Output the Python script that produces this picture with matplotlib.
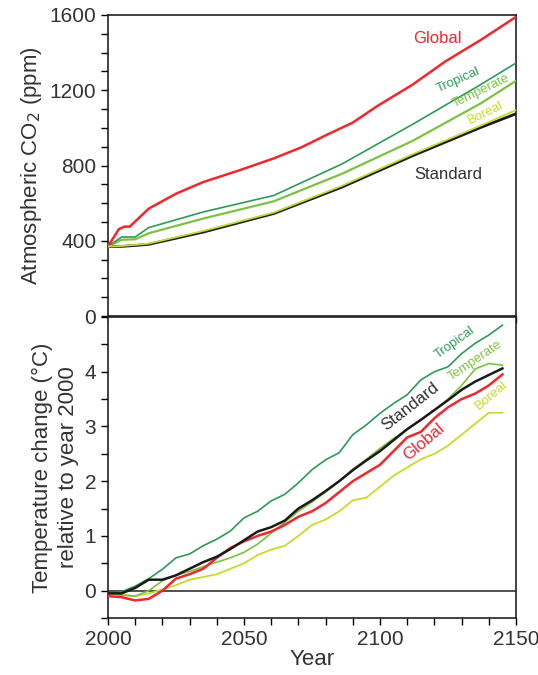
import matplotlib
matplotlib.use("Agg")
import matplotlib.pyplot as plt
from matplotlib.ticker import MultipleLocator

plt.rcParams['font.family'] = ['Liberation Sans', 'DejaVu Sans']

# ---- Top panel: atmospheric CO2 (ppm)
co2_years = [2000, 2004, 2006, 2008, 2015, 2025, 2035, 2048, 2061, 2071, 2081, 2090, 2099, 2112, 2124, 2137, 2150]
co2_global = [370, 462, 475, 475, 571, 650, 712, 773, 838, 896, 967, 1028, 1116, 1230, 1353, 1467, 1590]

co2_years2 = [2000, 2005, 2010, 2015, 2035, 2061, 2086, 2112, 2137, 2150]
co2_tropical = [370, 420, 420, 470, 553, 641, 808, 1019, 1230, 1345]
co2_temperate = [370, 405, 408, 440, 518, 610, 756, 931, 1130, 1250]
co2_boreal = [370, 372, 378, 385, 452, 550, 692, 860, 1012, 1095]
co2_standard = [370, 370, 375, 381, 446, 545, 685, 852, 1002, 1075]

# ---- Bottom panel: temperature change (°C) relative to 2000
t_years = list(range(2000, 2146, 5))
t_tropical = [-0.05, -0.02, 0.08, 0.22, 0.39, 0.60, 0.67, 0.82, 0.94, 1.09, 1.33, 1.45, 1.64, 1.76, 1.97,
              2.21, 2.39, 2.52, 2.85, 3.03, 3.24, 3.42, 3.58, 3.85, 4.00, 4.09, 4.33, 4.52, 4.67, 4.85]
t_standard = [-0.05, -0.05, 0.05, 0.20, 0.20, 0.28, 0.40, 0.52, 0.62, 0.76, 0.92, 1.08, 1.16, 1.28, 1.50,
              1.65, 1.82, 2.00, 2.20, 2.38, 2.55, 2.75, 2.95, 3.12, 3.30, 3.48, 3.67, 3.82, 3.94, 4.06]
t_temperate = [-0.05, -0.08, -0.10, 0.00, 0.18, 0.28, 0.35, 0.44, 0.52, 0.60, 0.70, 0.85, 1.05, 1.25, 1.45,
               1.62, 1.80, 2.00, 2.22, 2.40, 2.60, 2.78, 2.95, 3.12, 3.30, 3.50, 3.75, 4.05, 4.15, 4.12]
t_global = [-0.10, -0.12, -0.18, -0.15, 0.00, 0.22, 0.30, 0.40, 0.60, 0.78, 0.90, 1.00, 1.08, 1.20, 1.35,
            1.45, 1.60, 1.80, 2.00, 2.15, 2.30, 2.55, 2.80, 2.90, 3.15, 3.35, 3.50, 3.60, 3.75, 3.95]
t_boreal = [-0.05, -0.08, -0.10, -0.05, 0.02, 0.10, 0.20, 0.25, 0.30, 0.40, 0.50, 0.65, 0.75, 0.82, 1.00,
            1.20, 1.30, 1.45, 1.65, 1.70, 1.90, 2.10, 2.25, 2.40, 2.50, 2.65, 2.85, 3.05, 3.25, 3.25]

C_GLOBAL = '#f0282d'
C_TROP = '#2f9a55'
C_TEMP = '#7cc242'
C_BOR = '#c8da2c'
C_STD = '#1a1a1a'
C_TXT = '#333333'

fig = plt.figure(figsize=(5.38, 6.75), dpi=100)
L, W = 108/538, 408/538
ax1 = fig.add_axes([L, 1-316/675, W, 301/675])
ax2 = fig.add_axes([L, 1-618/675, W, 301/675])

# top panel
ax1.plot(co2_years2, co2_standard, color=C_STD, lw=2.0, zorder=3)
ax1.plot(co2_years2, co2_boreal, color=C_BOR, lw=1.3, zorder=4)
ax1.plot(co2_years2, co2_temperate, color=C_TEMP, lw=1.6, zorder=3)
ax1.plot(co2_years2, co2_tropical, color=C_TROP, lw=1.2, zorder=3)
ax1.plot(co2_years, co2_global, color=C_GLOBAL, lw=1.8, zorder=3)
ax1.set_xlim(2000, 2150)
ax1.set_ylim(0, 1600)
ax1.yaxis.set_major_locator(MultipleLocator(400))
ax1.yaxis.set_minor_locator(MultipleLocator(100))
ax1.xaxis.set_major_locator(MultipleLocator(10))
ax1.tick_params(axis='x', which='both', direction='out', length=5, labelbottom=False, width=1)
ax1.tick_params(axis='y', which='both', direction='out', length=5, width=1, labelsize=15, labelcolor=C_TXT)
ax1.set_ylabel('Atmospheric CO$_2$ (ppm)', fontsize=16, color=C_TXT, labelpad=4)
ax1.text(2121, 1473, 'Global', color=C_GLOBAL, fontsize=12, ha='center', va='center')
ax1.text(2129, 1255, 'Tropical', color=C_TROP, fontsize=9.5, ha='center', va='center', rotation=24)
ax1.text(2137, 1195, 'Temperate', color=C_TEMP, fontsize=9.5, ha='center', va='center', rotation=26)
ax1.text(2139, 1078, 'Boreal', color=C_BOR, fontsize=9.5, ha='center', va='center', rotation=26)
ax1.text(2125, 750, 'Standard', color=C_TXT, fontsize=12, ha='center', va='center')

# bottom panel
ax2.axhline(0, color=C_TXT, lw=1.2, zorder=2)
ax2.plot(t_years, t_boreal, color=C_BOR, lw=1.3, zorder=3)
ax2.plot(t_years, t_temperate, color=C_TEMP, lw=1.2, zorder=3)
ax2.plot(t_years, t_tropical, color=C_TROP, lw=1.2, zorder=3)
ax2.plot(t_years, t_global, color=C_GLOBAL, lw=1.8, zorder=4)
ax2.plot(t_years, t_standard, color=C_STD, lw=1.8, zorder=5)
ax2.set_xlim(2000, 2150)
ax2.set_ylim(-0.5, 5)
ax2.set_yticks([0, 1, 2, 3, 4])
ax2.yaxis.set_minor_locator(MultipleLocator(0.5))
ax2.xaxis.set_major_locator(MultipleLocator(50))
ax2.xaxis.set_minor_locator(MultipleLocator(10))
ax2.tick_params(axis='x', which='both', direction='out', length=5, width=1, labelsize=15, labelcolor=C_TXT)
ax2.tick_params(axis='y', which='both', direction='out', length=5, width=1, labelsize=15, labelcolor=C_TXT)
ax2.set_xlabel('Year', fontsize=16, color=C_TXT, labelpad=0)
ax2.set_ylabel('Temperature change (\u00b0C)\nrelative to year 2000', fontsize=16, color=C_TXT,
               labelpad=4, linespacing=1.3)
ax2.text(2127.5, 4.53, 'Tropical', color=C_TROP, fontsize=9.5, ha='center', va='center', rotation=36)
ax2.text(2135, 4.2, 'Temperate', color=C_TEMP, fontsize=9.5, ha='center', va='center', rotation=34)
ax2.text(2111, 3.36, 'Standard', color=C_TXT, fontsize=12, ha='center', va='center', rotation=38)
ax2.text(2116, 2.72, 'Global', color=C_GLOBAL, fontsize=12, ha='center', va='center', rotation=40)
ax2.text(2141, 3.56, 'Boreal', color=C_BOR, fontsize=9.5, ha='center', va='center', rotation=40)

for ax in (ax1, ax2):
    for s in ax.spines.values():
        s.set_linewidth(1.2)
        s.set_color('#222222')

fig.savefig('out.png', dpi=100)
